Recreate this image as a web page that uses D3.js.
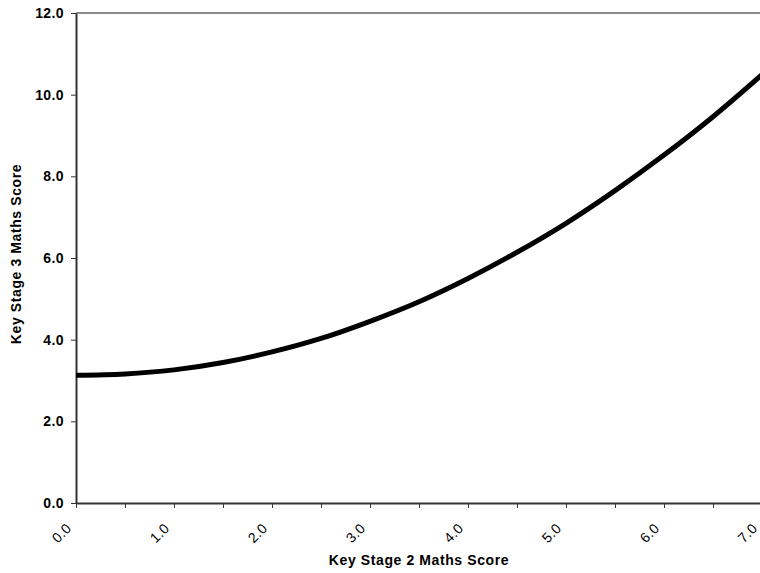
<!DOCTYPE html>
<html>
<head>
<meta charset="utf-8">
<script src="https://cdn.jsdelivr.net/npm/d3@7"></script>
<style>
  html, body { margin: 0; padding: 0; background: #fff; }
  svg { display: block; }
</style>
</head>
<body>
<svg id="chart" width="760" height="573"></svg>
<script>
// ---- data ----
const ks2Scores = [0.0, 0.5, 1.0, 1.5, 2.0, 2.5, 3.0, 3.5, 4.0, 4.5, 5.0, 5.5, 6.0, 6.5, 7.0];
const ks3Scores = [3.13, 3.16, 3.26, 3.44, 3.70, 4.03, 4.45, 4.93, 5.50, 6.14, 6.85, 7.65, 8.52, 9.46, 10.49];
const xTickValues = [0, 1, 2, 3, 4, 5, 6, 7];
const xTickMarks = [0, 0.5, 1, 1.5, 2, 2.5, 3, 3.5, 4, 4.5, 5, 5.5, 6, 6.5, 7];
const yTickValues = [0, 2, 4, 6, 8, 10, 12];
const xTitle = "Key Stage 2 Maths Score";
const yTitle = "Key Stage 3 Maths Score";

(function () {
const svg = d3.select("#chart");
const plotL = 76, plotR = 762, plotT = 13, plotB = 503;

const x = d3.scaleLinear().domain([0, 7]).range([plotL, plotR]);
const y = d3.scaleLinear().domain([0, 12]).range([plotB, plotT]);
const font = "'Liberation Sans', Arial, sans-serif";

// top border of plot area
svg.append("line")
  .attr("x1", plotL).attr("x2", plotR)
  .attr("y1", y(12)).attr("y2", y(12))
  .attr("stroke", "#8a8a8a").attr("stroke-width", 2);

// Y axis
const yAxis = svg.append("g")
  .attr("transform", `translate(${plotL},0)`)
  .call(d3.axisLeft(y).tickValues(yTickValues).tickSize(5).tickPadding(7)
        .tickFormat(d3.format(".1f")).tickSizeOuter(0));
yAxis.select(".domain").attr("stroke", "#333").attr("stroke-width", 2);
yAxis.selectAll(".tick line").attr("stroke", "#333").attr("stroke-width", 1);
yAxis.selectAll(".tick text")
  .attr("font-family", font).attr("font-size", 14).attr("font-weight", "bold")
  .attr("letter-spacing", "0.4px").attr("fill", "#000");

// X axis: tick marks every 0.5, labels every 1
const xAxis = svg.append("g")
  .attr("transform", `translate(0,${plotB})`)
  .call(d3.axisBottom(x).tickValues(xTickMarks).tickSize(5).tickFormat("").tickSizeOuter(0));
xAxis.select(".domain").attr("stroke", "#333").attr("stroke-width", 2);
xAxis.selectAll(".tick line").attr("stroke", "#333").attr("stroke-width", 1);

svg.append("g").selectAll("text")
  .data(xTickValues)
  .join("text")
  .attr("transform", d => `translate(${x(d) - 14.5},${533}) rotate(-45)`)
  .attr("text-anchor", "middle")
  .attr("dominant-baseline", "central")
  .attr("font-family", font).attr("font-size", 14)
  .attr("letter-spacing", "0.4px")
  .attr("fill", "#000")
  .text(d => d3.format(".1f")(d));

// curve
svg.append("path")
  .datum(ks2Scores.map((v, i) => [v, ks3Scores[i]]))
  .attr("fill", "none")
  .attr("stroke", "#000")
  .attr("stroke-width", 5)
  .attr("d", d3.line().x(d => x(d[0])).y(d => y(d[1])).curve(d3.curveCatmullRom));

// axis titles
svg.append("text")
  .attr("x", (plotL + plotR) / 2).attr("y", 565)
  .attr("text-anchor", "middle")
  .attr("font-family", font).attr("font-size", 14).attr("font-weight", "bold")
  .attr("letter-spacing", "0.6px")
  .text(xTitle);

svg.append("text")
  .attr("transform", `translate(21,${(plotT + plotB) / 2 - 4}) rotate(-90)`)
  .attr("text-anchor", "middle")
  .attr("font-family", font).attr("font-size", 14).attr("font-weight", "bold")
  .attr("letter-spacing", "0.6px")
  .text(yTitle);
})();
</script>
</body>
</html>
